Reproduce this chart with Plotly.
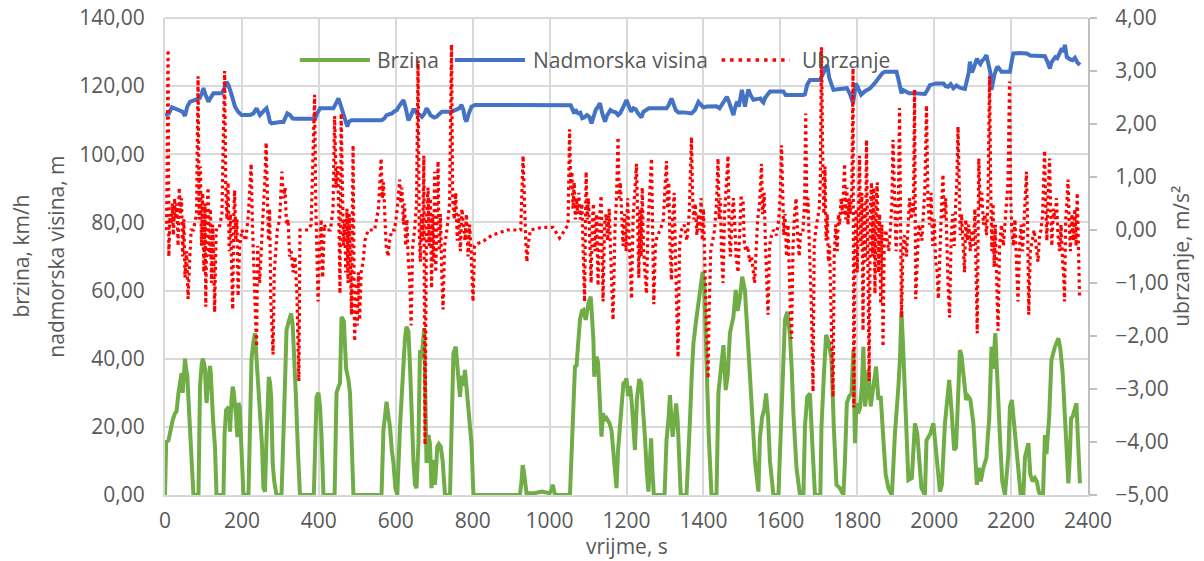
import plotly.graph_objects as go

# ---------------- data ----------------
speed_t = [0,3,9,15,20,26,30,35,40,43,46,49,52,55,58,61,65,69,74,87,91,95,98,101,104,106,108,112,117,119,121,125,130,134,152,155,159,163,167,169,173,176,179,182,185,188,191,194,197,201,204,217,222,225,230,234,238,243,247,252,256,260,264,267,270,273,276,280,284,290,303,310,316,322,328,332,334,340,346,351,387,390,394,399,403,407,412,441,446,452,455,459,465,471,477,481,485,490,563,568,572,576,580,585,590,594,599,604,611,616,620,624,628,633,637,641,646,650,654,659,663,667,671,674,678,680,683,685,689,693,699,702,705,708,712,717,722,725,728,741,745,750,756,761,767,771,776,780,784,789,797,802,923,927,930,933,936,940,960,980,1000,1005,1008,1011,1014,1053,1057,1062,1066,1070,1075,1079,1084,1088,1094,1101,1107,1111,1114,1116,1119,1122,1126,1130,1135,1139,1143,1148,1152,1156,1161,1166,1170,1174,1178,1182,1187,1192,1196,1200,1204,1209,1213,1218,1222,1227,1233,1238,1242,1248,1253,1257,1260,1264,1267,1271,1299,1304,1309,1313,1317,1320,1325,1329,1333,1337,1341,1356,1361,1365,1370,1374,1382,1391,1398,1402,1408,1414,1421,1434,1439,1443,1447,1452,1458,1463,1469,1478,1484,1489,1495,1501,1508,1517,1525,1534,1543,1547,1553,1558,1563,1568,1573,1582,1595,1600,1603,1608,1612,1618,1625,1630,1634,1642,1651,1660,1664,1670,1677,1684,1690,1704,1707,1713,1719,1725,1733,1739,1746,1755,1764,1768,1773,1779,1785,1790,1794,1798,1802,1807,1812,1816,1820,1825,1829,1835,1842,1849,1855,1861,1868,1874,1881,1890,1898,1903,1907,1911,1915,1919,1925,1933,1942,1946,1950,1956,1962,1967,1976,1980,1985,1990,1998,2005,2010,2015,2020,2028,2034,2039,2045,2052,2057,2063,2067,2071,2076,2080,2083,2088,2094,2102,2107,2111,2116,2121,2128,2136,2140,2143,2149,2153,2159,2164,2171,2177,2184,2193,2197,2202,2207,2212,2216,2221,2225,2232,2236,2245,2250,2256,2262,2267,2272,2276,2283,2288,2292,2299,2305,2314,2323,2328,2334,2339,2343,2349,2353,2356,2360,2365,2370,2374,2379]
speed_v = [0,15.6,16,20,22,24,24.5,30,34,35.8,30,38,40,37,35,28,18,8,0,0,31.8,38,40,39,37,31,27,33,37.9,36,30,22,14,0,0,18,25,25.5,25,18.6,28,31.8,30,27,23,17,27,26,18,5,0,0,20,40,45,47.5,40,31,27,15,2,1,17,30,34.7,33,29,9.4,4,0,0,25,48.4,51,53.3,50,46,30,12,0,0,15,28.8,30,26,17.6,0,0,30,32,32.8,52.3,51,37,33.8,30,15,0,0,19,23,27.4,24,20,13,9.4,2,0,20,32,42.5,46,49.4,48,38,22,10,3,2,15,42.5,40,46,49,22,9.4,15,17.6,15,2,10.3,3,8,14.2,15,14.2,10,3,0,0,20,41.6,43.5,38,28.8,35,32,36.7,31,24,15,0,0,4,8.8,7,3,0.5,0.5,1,0.5,1.5,3,1,0,0,13.2,28,37.7,38,46,51.4,54,54.3,51.4,56.3,58.2,50,45.5,34.7,38,40.6,39,27,17.1,24,22,22.6,22,21,19,13,6.4,2,13,18,26,32.8,33,34.2,29,32,28,20,13.2,28,34,33,27,17,6.4,1,8,16.6,8,0,0,16,22,29.3,22,17.1,22,26.9,22,12,0,0,10,22,36,44.5,52,59.2,65.5,62,37.7,17,0,0,30,35,39.6,44,30.8,35,47.5,52.3,60.2,54,58,64.1,60,43.5,25,10,1,17.1,23,25,29.8,23,10,0,0,15,27,42,51.4,53.8,47,36,24,8,0,0,20,28.8,29.8,13.2,0,0,20,34.7,47,45,40,20,3,2,0,10,27,29,29.8,42.5,15.2,27,24,25.5,32,43.5,26,30,36.7,26,31,37.7,28,29,16.1,6,2,0,18,24,31.8,40,53.8,44,25,4.4,5,12,21,18,10,2,0,16,17,18,21,13,5,1,3,21,28,33.8,25,13.2,14,29,42.5,41,35.7,33,27.9,29,28,21,10,3,8,4,8,11,18,22,43.5,37,47.5,37,17,4,0,12,25.9,27.9,21,16,11,5,0,0,11,15.2,6,4,5,4,1,0,0,17.6,12,23,39.6,43.5,46,43,36,26,18,3.4,12,22.5,23,25,26.9,16,3.4]

alt_t = [0,10,18,26,35,45,52,58,65,82,90,96,100,105,113,118,126,147,153,160,166,173,178,182,190,199,221,230,238,243,247,255,260,264,268,273,277,290,300,308,313,318,325,332,342,390,396,403,438,445,451,458,465,474,478,485,563,570,576,590,595,603,608,614,620,625,630,633,640,645,650,655,663,668,675,680,686,690,700,706,712,720,745,755,765,771,776,780,784,790,797,806,900,1000,1044,1055,1060,1064,1067,1070,1075,1080,1085,1090,1097,1103,1109,1114,1120,1126,1131,1137,1144,1150,1158,1165,1172,1178,1183,1190,1196,1200,1205,1212,1218,1224,1230,1236,1239,1244,1250,1258,1304,1310,1317,1322,1328,1335,1350,1369,1378,1387,1394,1400,1410,1434,1442,1450,1456,1461,1466,1472,1478,1483,1488,1492,1496,1500,1504,1508,1512,1517,1522,1530,1540,1548,1553,1556,1560,1566,1573,1608,1614,1660,1664,1670,1677,1703,1708,1713,1718,1722,1727,1732,1738,1750,1760,1773,1780,1785,1789,1793,1796,1800,1805,1810,1820,1833,1845,1855,1865,1872,1902,1907,1912,1915,1920,1927,1935,1950,1976,1982,1989,2005,2024,2030,2036,2043,2050,2058,2068,2080,2085,2090,2093,2098,2102,2107,2111,2116,2120,2125,2130,2136,2141,2146,2149,2153,2157,2163,2167,2175,2197,2202,2206,2220,2241,2250,2270,2288,2295,2301,2305,2310,2315,2320,2325,2332,2336,2340,2343,2345,2355,2360,2366,2372,2379]
alt_v = [111.5,112,113.8,113.5,113,112.5,111.3,114,115.4,116,116.5,118,119.4,117.5,115.4,116.5,117.9,117.9,119,121.3,120,117.5,115.5,114,112.5,111.5,111.5,112,113.5,112,111.5,112.5,113,113.5,112,109.5,109.1,109.4,109.5,109.5,110.5,112,111.5,110.5,110.4,110.4,112,113.5,113.5,115,116.4,114,111,108.1,109.5,110,110,110.5,111.5,112,112.5,113,114,115,115.9,114,111,110,111.5,113,113,112,111.5,111,112,113.5,112.5,111.5,110.8,111,111.7,112.5,112.5,113,113.5,114.5,113,110.5,109.6,112,114,114.5,114.5,114.5,114.5,114.4,113,112,113.2,112.5,112,112.2,110.6,110.8,111.5,111,109.1,111,113,114,115,112,109.6,111.5,113,112.5,112.3,111.5,112,113.5,115.2,115.9,114.5,112.5,113.5,113.2,112,111,110.8,112.5,113,113.5,113.5,114.5,116.4,115,113,112.3,112.3,112,113,115.4,114.5,113.8,114,114.1,113.5,115,116,116.9,115.5,113,111.5,114,115.5,114,116,118.9,116.5,114,116.5,119,117.5,116,116.2,116.4,115.5,115.2,116.5,117.5,118.4,118.4,117.4,117.4,117.6,120.5,121.8,121.8,123,124.2,125,126.2,122.5,120.5,118.9,119.1,119.2,119.4,118,116,115,118,120.8,120,118.5,117.5,118.5,119.3,120.8,122.5,123.8,124.2,124.2,122,119,117.9,118.8,118.5,117.9,117.9,117.7,118.8,120.3,120.8,120.8,120,119.8,120.6,119.4,120.2,119.5,119.2,122,124,127.2,124,125,126.5,128.1,127,126.5,127.5,128,129.1,127,124,118.9,122,123.5,125.4,125.5,124.2,124.2,127.5,129.6,129.7,129.6,129,128.9,128.8,127,125.2,127,128,128.5,128.2,129.5,131.1,130,132.1,130,128.5,127.8,127.6,128.3,127,126.2]

acc_t = [0,4,8,10,13,16,19,22,25,28,31,34,37,40,43,46,49,52,56,60,64,68,74,82,86,89,92,95,98,101,104,106,109,112,115,118,121,124,127,129,133,140,148,155,158,161,164,167,170,173,176,179,181,184,187,190,194,200,210,217,221,224,227,230,233,236,238,241,246,250,255,260,263,266,269,272,275,278,281,284,288,292,298,304,308,312,316,320,324,328,333,338,343,348,351,360,372,380,389,392,395,398,402,406,410,414,420,430,437,441,445,449,452,455,458,461,464,467,470,473,476,479,482,485,489,491,493,497,500,503,506,510,515,520,528,545,555,562,565,568,571,575,580,584,590,597,604,610,613,616,620,623,626,629,632,636,640,644,649,654,658,661,664,667,670,673,676,680,684,687,690,693,696,699,701,704,707,710,713,716,720,723,727,733,740,745,748,752,756,760,764,768,772,776,780,784,788,792,796,801,805,815,830,850,870,890,913,925,931,935,938,941,944,950,980,1009,1020,1026,1040,1048,1052,1055,1058,1061,1064,1067,1070,1073,1076,1080,1084,1087,1091,1095,1098,1101,1104,1108,1111,1114,1118,1122,1126,1130,1134,1137,1139,1143,1147,1151,1155,1160,1165,1170,1174,1178,1181,1184,1187,1191,1195,1199,1203,1207,1210,1213,1217,1221,1226,1229,1232,1235,1238,1241,1244,1248,1252,1256,1260,1265,1268,1271,1275,1280,1288,1296,1300,1304,1307,1310,1313,1317,1320,1324,1327,1330,1334,1338,1343,1350,1357,1363,1369,1372,1375,1379,1383,1387,1390,1394,1397,1400,1403,1406,1409,1412,1415,1419,1424,1429,1434,1438,1441,1444,1447,1451,1455,1460,1464,1467,1470,1474,1478,1481,1485,1490,1494,1498,1503,1506,1510,1515,1520,1525,1530,1533,1537,1541,1546,1551,1554,1558,1561,1564,1568,1572,1577,1582,1590,1596,1600,1603,1606,1609,1612,1616,1620,1623,1626,1629,1633,1637,1641,1645,1649,1653,1659,1663,1666,1669,1672,1675,1678,1681,1685,1688,1692,1697,1701,1704,1707,1710,1713,1716,1719,1722,1725,1728,1731,1734,1737,1740,1744,1748,1751,1754,1758,1762,1767,1770,1773,1776,1779,1782,1786,1789,1791,1794,1797,1800,1803,1806,1809,1812,1815,1818,1821,1824,1827,1831,1834,1837,1840,1843,1846,1849,1852,1855,1858,1861,1864,1867,1870,1874,1878,1882,1886,1890,1893,1897,1901,1904,1907,1910,1913,1915,1919,1923,1928,1932,1936,1940,1944,1946,1949,1952,1956,1960,1964,1968,1972,1976,1980,1984,1988,1992,1996,2000,2004,2008,2011,2015,2019,2023,2026,2030,2033,2036,2040,2044,2048,2052,2056,2059,2062,2065,2068,2071,2074,2077,2079,2082,2086,2090,2094,2098,2102,2106,2109,2112,2116,2120,2124,2128,2132,2136,2140,2144,2147,2150,2153,2156,2159,2162,2166,2170,2175,2180,2184,2188,2192,2196,2199,2202,2206,2210,2214,2218,2222,2226,2230,2234,2237,2240,2243,2246,2250,2255,2260,2265,2270,2274,2278,2282,2287,2290,2293,2296,2300,2303,2306,2310,2314,2318,2322,2326,2330,2334,2337,2339,2342,2345,2348,2351,2354,2358,2362,2366,2369,2372,2375,2378]
acc_v = [0.0,0.1,3.4,-0.5,0.3,0.1,0.5,-0.1,0.6,0.2,0.5,-0.3,0.8,0.3,0.6,-0.5,0.2,-0.9,-0.4,-1.3,-0.6,0.0,0.0,0.3,2.9,0.2,1.2,-0.3,0.7,-0.8,0.5,-1.45,0.3,0.8,-0.5,0.4,-1.0,0.1,-0.6,-1.55,0.0,0.0,0.3,3.0,0.8,0.2,0.9,-0.4,0.3,-0.8,-1.5,0.3,0.75,-0.2,0.2,-1.25,-0.3,0.0,-0.2,0.3,0.9,1.25,0.2,-0.5,-0.9,-1.6,-2.2,-0.3,-1.0,-0.4,0.2,1.0,1.65,0.8,-0.2,0.4,-1.3,-1.8,-2.35,-0.8,-0.3,0.0,0.2,1.1,0.6,0.8,0.1,0.2,-0.5,-0.4,-0.8,-0.5,-1.2,-2.85,0.0,0.0,0.0,0.1,2.55,0.5,-0.2,-1.35,-0.4,0.2,-0.9,0.1,0.0,0.0,0.4,2.15,0.8,1.2,0.3,-1.2,2.2,0.5,-0.3,0.2,-0.8,0.4,-1.0,0.3,-0.7,-1.6,1.6,-0.5,-2.1,-1.0,-1.8,-0.8,-1.7,-0.8,-0.6,-0.2,0.0,0.0,0.4,1.35,0.6,0.9,0.3,-0.3,-0.5,-0.2,0.0,0.0,0.4,0.95,0.5,0.8,0.1,0.5,-0.3,0.2,-0.5,-0.9,-1.8,-0.3,0.0,0.5,3.2,0.0,-0.6,0.3,-0.2,1.4,-4.05,0.2,0.8,-0.3,0.6,-1.1,0.3,-0.6,1.1,-0.8,0.2,1.3,-0.4,0.3,-0.9,-1.5,-0.3,0.0,0.5,3.5,0.6,0.2,0.7,-0.2,0.3,-0.4,0.4,0.1,-0.2,0.3,-0.5,0.1,-0.4,-1.35,-0.3,-0.25,-0.2,-0.1,-0.05,0.0,0.0,0.0,1.4,0.3,-0.2,-0.6,-0.3,0.0,0.05,0.05,-0.1,-0.15,0.0,0.1,1.9,0.8,1.1,0.4,0.9,0.2,0.6,0.3,0.7,0.2,0.5,-0.5,-1.35,1.1,0.2,0.6,-0.3,-1.0,0.1,0.5,-0.4,0.3,-1.05,0.2,0.65,-0.5,-1.35,0.1,0.3,-0.2,0.4,-0.7,-1.7,0.0,0.6,1.75,0.6,0.9,0.2,-0.3,0.3,-0.4,0.6,-0.2,-0.7,-1.3,0.2,0.6,1.25,0.2,-0.9,0.4,-0.5,0.8,-0.3,-0.8,-1.2,0.1,0.6,1.35,0.0,-1.4,-0.3,-0.1,0.0,0.2,0.8,1.3,0.4,0.9,-0.3,-0.95,0.2,0.7,-0.4,-1.5,-2.4,-0.3,0.0,0.1,-0.2,0.3,1.75,0.6,0.2,0.5,-0.1,0.3,0.0,0.6,-0.2,0.4,-0.8,-1.3,-2.0,-2.8,-1.5,-0.4,-0.2,0.0,0.5,1.35,0.2,0.6,-0.4,-1.0,0.3,0.8,1.4,0.0,-0.5,0.2,0.6,0.2,-0.5,-0.8,0.1,0.6,0.6,-0.2,-0.4,-0.3,-0.6,-0.5,-0.8,-1.0,-0.4,0.2,0.5,1.25,0.3,0.7,-0.2,-0.8,-1.6,-0.3,-0.1,0.0,-0.1,0.2,0.7,1.6,0.5,-0.1,0.3,-0.5,0.1,-0.9,-1.5,-2.05,-0.3,0.3,0.6,-0.1,-0.5,0.0,0.0,0.5,2.2,0.3,0.6,-0.2,-0.7,-1.5,-3.05,-0.3,0.0,0.2,0.4,0.9,3.45,1.5,0.3,1.2,-0.2,0.3,-0.6,-0.3,-1.2,-2.0,-3.15,-0.5,0.1,-0.4,0.3,0.1,0.6,0.3,1.25,0.2,0.8,0.1,0.6,0.3,0.8,3.05,-3.35,-0.5,0.4,-0.8,0.6,1.4,-0.3,0.7,-1.9,0.5,-0.6,1.7,-0.2,-2.85,0.4,0.9,-0.5,0.8,-1.2,0.5,0.9,-0.8,0.3,-1.4,0.1,-2.2,-0.3,0.0,-0.2,-0.4,0.0,0.5,1.7,0.3,-0.4,0.2,0.6,2.3,-0.5,-1.65,-0.3,-0.1,-0.5,0.0,0.6,0.2,0.5,0.3,2.65,-1.3,-0.5,0.1,0.0,-0.2,0.3,0.8,2.35,0.5,0.1,0.7,-0.3,0.2,-0.6,-0.8,-1.3,-0.2,0.4,1.05,0.2,0.6,-0.5,-1.0,-1.65,-0.2,0.3,-0.3,0.5,0.9,1.95,0.5,-0.1,0.3,0.0,-0.5,-0.8,0.2,-0.2,0.1,-0.4,0.0,-0.3,0.4,-0.8,-1.95,1.35,0.4,0.7,0.1,0.3,-0.1,0.6,2.9,0.8,-0.4,0.5,-0.7,0.1,-1.1,-1.9,-0.3,0.1,-0.3,0.2,0.5,0.9,2.8,0.6,0.0,-0.3,0.2,-0.6,-1.35,-0.3,0.1,-0.4,0.3,0.6,1.1,0.1,-1.6,-0.4,-0.2,0.0,-0.3,-0.6,-0.1,0.0,0.3,1.5,0.5,-0.2,0.6,1.35,0.4,-0.3,0.4,0.2,0.6,-0.1,-0.4,0.1,-0.6,-0.9,-1.35,0.2,0.5,0.95,0.2,-0.4,0.3,-0.2,0.4,-0.3,0.7,-0.6,-1.25]

left_ticks = [0, 20, 40, 60, 80, 100, 120, 140]
right_ticks = [-5, -4, -3, -2, -1, 0, 1, 2, 3, 4]
x_ticks = [0, 200, 400, 600, 800, 1000, 1200, 1400, 1600, 1800, 2000, 2200, 2400]

# ---------------- figure ----------------
GREEN = "#70AD47"
BLUE = "#4472C4"
RED = "#FF0000"
GRID = "#D9D9D9"
TXT = "#595959"
FONT = "Open Sans"
FS = 21

fig = go.Figure()
fig.add_trace(go.Scatter(x=speed_t, y=speed_v, mode="lines", name="Brzina",
                         line=dict(color=GREEN, width=4), showlegend=False))
fig.add_trace(go.Scatter(x=alt_t, y=alt_v, mode="lines", name="Nadmorska visina",
                         line=dict(color=BLUE, width=4), showlegend=False))
fig.add_trace(go.Scatter(x=acc_t, y=acc_v, mode="lines", name="Ubrzanje", yaxis="y2",
                         line=dict(color=RED, width=3.2, dash="3px,3.5px"), showlegend=False))

# Legend (drawn as decoration in paper coordinates) + top frame gridline
leg_y = 0.912
shapes = [
    dict(type="line", xref="paper", yref="paper", x0=0, x1=1, y0=1, y1=1,
         line=dict(color=GRID, width=2), layer="below"),
    dict(type="line", xref="paper", yref="paper", x0=0.146, x1=0.222, y0=leg_y, y1=leg_y,
         line=dict(color=GREEN, width=4)),
    dict(type="line", xref="paper", yref="paper", x0=0.314, x1=0.390, y0=leg_y, y1=leg_y,
         line=dict(color=BLUE, width=4)),
    dict(type="line", xref="paper", yref="paper", x0=0.603, x1=0.677, y0=leg_y, y1=leg_y,
         line=dict(color=RED, width=3.5, dash="3.5px,5px")),
]
def txt(s, x, y, xanchor="left", angle=0):
    return dict(text=s, xref="paper", yref="paper", x=x, y=y, xanchor=xanchor,
                yanchor="middle", showarrow=False, textangle=angle,
                font=dict(size=FS, color=TXT, family=FONT))

annotations = [
    txt("Brzina", 0.228, leg_y),
    txt("Nadmorska visina", 0.396, leg_y),
    txt("Ubrzanje", 0.688, leg_y),
    txt("brzina, km/h", -0.157, 0.5, "center", -90),
    txt("nadmorska visina, m", -0.119, 0.5, "center", -90),
    txt("ubrzanje, m/s²", 1.1, 0.5, "center", -90),
    txt("vrijme, s", 0.5, -0.106, "center"),
]

fig.update_layout(
    width=1204, height=561,
    margin=dict(l=165, r=116, t=18, b=66, pad=0, autoexpand=False),
    paper_bgcolor="white", plot_bgcolor="white",
    separators=",.",
    font=dict(family=FONT, size=FS, color=TXT),
    showlegend=False,
    shapes=shapes,
    annotations=annotations,
    xaxis=dict(range=[0, 2400], tickvals=x_ticks, tickformat="d", automargin=False,
               showgrid=True, gridcolor=GRID, gridwidth=2,
               showline=True, linecolor=GRID, linewidth=2,
               zeroline=False, ticks="", ticklabelstandoff=6,
               ticklabeloverflow="allow",
               tickfont=dict(size=FS, color=TXT, family=FONT)),
    yaxis=dict(range=[0, 140], tickvals=left_ticks, tickformat=".2f", automargin=False,
               showgrid=True, gridcolor=GRID, gridwidth=2,
               showline=True, linecolor=GRID, linewidth=2, mirror=False,
               zeroline=False, ticks="", ticklabelstandoff=14,
               ticklabeloverflow="allow",
               tickfont=dict(size=FS, color=TXT, family=FONT)),
    yaxis2=dict(range=[-5, 4], tickvals=right_ticks, tickformat=".2f", automargin=False,
                overlaying="y", side="right", showgrid=False, zeroline=False,
                showline=True, linecolor="#BFBFBF", linewidth=2,
                ticks="outside", ticklen=7, tickwidth=2, tickcolor="#BFBFBF",
                ticklabelstandoff=14, ticklabeloverflow="allow",
                tickfont=dict(size=FS, color=TXT, family=FONT)),
)

# remove the default page margin so the 1204x561 figure fills the window exactly
fig.write_html("out.html", config={"displayModeBar": False},
               post_script="document.body.style.margin='0';document.body.style.overflow='hidden';")
